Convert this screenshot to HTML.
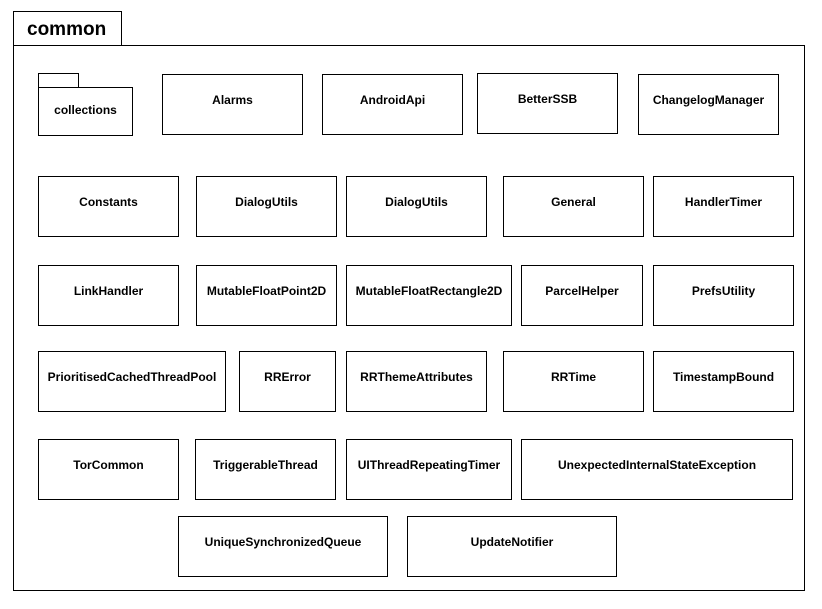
<!DOCTYPE html>
<html><head><meta charset="utf-8"><style>
body{margin:0;background:#fff}
svg{display:block}
text{font-family:"Liberation Sans",Arial,sans-serif;font-weight:bold;font-size:12px;fill:#000}
rect{fill:#fff;stroke:#000;stroke-width:1}
</style></head><body>
<svg width="822" height="609" viewBox="0 0 822 609">
<rect x="13.5" y="11.5" width="108" height="34"/>
<rect x="13.5" y="45.5" width="791" height="545"/>
<text x="27" y="35" style="font-size:19px">common</text>
<rect x="38.5" y="73.5" width="40" height="14"/>
<rect x="38.5" y="87.5" width="94" height="48"/>
<text x="85.5" y="114" text-anchor="middle">collections</text>
<g text-anchor="middle">
<rect x="162.5" y="74.5" width="140" height="60"/><text x="232.5" y="104">Alarms</text>
<rect x="322.5" y="74.5" width="140" height="60"/><text x="392.5" y="104">AndroidApi</text>
<rect x="477.5" y="73.5" width="140" height="60"/><text x="547.5" y="103">BetterSSB</text>
<rect x="638.5" y="74.5" width="140" height="60"/><text x="708.5" y="104">ChangelogManager</text>

<rect x="38.5" y="176.5" width="140" height="60"/><text x="108.5" y="206">Constants</text>
<rect x="196.5" y="176.5" width="140" height="60"/><text x="266.5" y="206">DialogUtils</text>
<rect x="346.5" y="176.5" width="140" height="60"/><text x="416.5" y="206">DialogUtils</text>
<rect x="503.5" y="176.5" width="140" height="60"/><text x="573.5" y="206">General</text>
<rect x="653.5" y="176.5" width="140" height="60"/><text x="723.5" y="206">HandlerTimer</text>

<rect x="38.5" y="265.5" width="140" height="60"/><text x="108.5" y="295">LinkHandler</text>
<rect x="196.5" y="265.5" width="140" height="60"/><text x="266.5" y="295">MutableFloatPoint2D</text>
<rect x="346.5" y="265.5" width="165" height="60"/><text x="429" y="295">MutableFloatRectangle2D</text>
<rect x="521.5" y="265.5" width="121" height="60"/><text x="582" y="295">ParcelHelper</text>
<rect x="653.5" y="265.5" width="140" height="60"/><text x="723.5" y="295">PrefsUtility</text>

<rect x="38.5" y="351.5" width="187" height="60"/><text x="132" y="381">PrioritisedCachedThreadPool</text>
<rect x="239.5" y="351.5" width="96" height="60"/><text x="287.5" y="381">RRError</text>
<rect x="346.5" y="351.5" width="140" height="60"/><text x="416.5" y="381">RRThemeAttributes</text>
<rect x="503.5" y="351.5" width="140" height="60"/><text x="573.5" y="381">RRTime</text>
<rect x="653.5" y="351.5" width="140" height="60"/><text x="723.5" y="381">TimestampBound</text>

<rect x="38.5" y="439.5" width="140" height="60"/><text x="108.5" y="469">TorCommon</text>
<rect x="195.5" y="439.5" width="140" height="60"/><text x="265.5" y="469">TriggerableThread</text>
<rect x="346.5" y="439.5" width="165" height="60"/><text x="429" y="469">UIThreadRepeatingTimer</text>
<rect x="521.5" y="439.5" width="271" height="60"/><text x="657" y="469">UnexpectedInternalStateException</text>

<rect x="178.5" y="516.5" width="209" height="60"/><text x="283" y="546">UniqueSynchronizedQueue</text>
<rect x="407.5" y="516.5" width="209" height="60"/><text x="512" y="546">UpdateNotifier</text>
</g>
</svg>
</body></html>
